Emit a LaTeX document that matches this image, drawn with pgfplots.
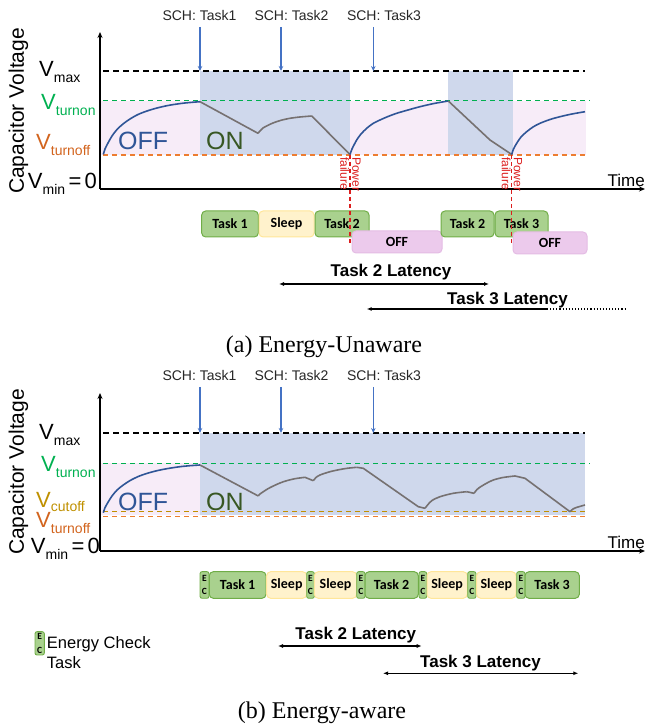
\documentclass[border=0pt]{standalone}
\usepackage{pgfplots}
\pgfplotsset{compat=1.18}
\usepackage{fontspec}
\setmainfont{Liberation Serif}
\newfontfamily\arial{Liberation Sans}
\newfontfamily\calibri{Carlito}
\usetikzlibrary{arrows.meta}
\definecolor{regblue}{RGB}{207,216,236}
\definecolor{regpink}{RGB}{247,236,248}
\definecolor{vgreen}{RGB}{0,176,80}
\definecolor{vorange}{RGB}{237,125,49}
\definecolor{vorangetxt}{RGB}{210,100,30}
\definecolor{vgold}{RGB}{191,144,0}
\definecolor{cblue}{RGB}{47,85,151}
\definecolor{cgray}{RGB}{118,113,113}
\definecolor{ongreen}{RGB}{56,87,35}
\definecolor{taskfill}{RGB}{169,209,142}
\definecolor{taskdraw}{RGB}{112,173,71}
\definecolor{sleepfill}{RGB}{255,242,204}
\definecolor{sleepdraw}{RGB}{255,230,153}
\definecolor{offfill}{RGB}{236,202,236}
\definecolor{offdraw}{RGB}{228,188,228}
\definecolor{schblue}{RGB}{68,114,196}
\definecolor{pfred}{RGB}{220,30,30}
\newcommand{\fs}[1]{\fontsize{#1}{#1}\selectfont}
\newcommand{\Vlab}[1]{V\raisebox{-6pt}{\fs{14}#1}}
\tikzset{
  task/.style={draw=taskdraw, fill=taskfill, rounded corners=4pt, line width=1pt},
  sleep/.style={draw=sleepdraw, fill=sleepfill, rounded corners=4pt, line width=1pt},
  off/.style={draw=offdraw, fill=offfill, rounded corners=4pt, line width=1pt},
  ec/.style={draw=taskdraw, fill=taskfill, rounded corners=2pt, line width=0.9pt},
  lat/.style={line width=1.1pt, {Latex[length=5pt,width=4pt]}-{Latex[length=5pt,width=4pt]}},
  crv/.style={line width=1.6pt},
}
\newcommand{\tbox}[6]{\draw[#1] (#2,-#4) rectangle (#3,-#5);
  \node[font=\calibri\bfseries\fs{14}, inner sep=0] at ({(#2+#3)/2},{-(#4+#5)/2}) {#6};}
\newcommand{\ecbox}[4]{\draw[ec] (#1,-#3) rectangle (#2,-#4);
  \node[font=\calibri\bfseries\fontsize{9.5}{13.5}\selectfont, align=center, inner sep=0] at ({(#1+#2)/2},{-(#3+#4)/2}) {E\\C};}
\begin{document}
\begin{tikzpicture}
\begin{axis}[x=1pt, y=1pt, xmin=0, xmax=645, ymin=-726, ymax=0, hide axis, clip=false]
\coordinate (BL) at (0,-726);
\coordinate (TR) at (645,0);
% ================= PANEL (a) =================
\addplot[fill=regpink, draw=none] coordinates {(101,-100.7) (200,-100.7) (200,-155) (101,-155)} -- cycle;
\addplot[fill=regblue, draw=none] coordinates {(200,-71) (350,-71) (350,-155) (200,-155)} -- cycle;
\addplot[fill=regpink, draw=none] coordinates {(350,-100.7) (448,-100.7) (448,-155) (350,-155)} -- cycle;
\addplot[fill=regblue, draw=none] coordinates {(448,-71) (513,-71) (513,-155) (448,-155)} -- cycle;
\addplot[fill=regpink, draw=none] coordinates {(513,-100.7) (586,-100.7) (586,-155) (513,-155)} -- cycle;
\addplot[black, line width=1.6pt, dash pattern=on 6pt off 4pt] coordinates {(103,-71) (585,-71)};
\addplot[vgreen, line width=1.4pt, dash pattern=on 5pt off 4pt] coordinates {(103,-100.7) (590,-100.7)};
\addplot[vorange, line width=1.5pt, dash pattern=on 5pt off 4pt] coordinates {(103,-155) (588,-155)};
\addplot[cblue, crv, smooth] coordinates {(103.3,-154.5) (105,-149) (108,-143) (112,-136) (117,-129.5) (123,-124) (130,-119) (138,-114.5) (147,-111) (157,-108) (168,-105.5) (180,-103.6) (190,-102.5) (200,-101.7)};
\addplot[cgray, crv] coordinates {(200,-101.7) (258,-133.3)};
\addplot[cgray, crv, smooth] coordinates {(258,-133.3) (260,-131) (263,-128) (268,-125.3) (273,-123) (281,-120.3) (290,-118.3) (300,-117) (311.7,-116)};
\addplot[cgray, crv] coordinates {(311.7,-116) (350,-154.5)};
\addplot[cblue, crv, smooth] coordinates {(350,-154.5) (352,-149) (354.5,-144) (357,-139.5) (361,-134) (366.7,-128.3) (373,-123.5) (380,-120) (388,-116.5) (396.7,-113.3) (408,-110) (420,-106.7) (434,-103.5) (448.3,-101)};
\addplot[cgray, crv] coordinates {(448.3,-101) (490,-140) (511.7,-154.5)};
\addplot[cblue, crv, smooth] coordinates {(511.7,-154.5) (513.5,-149) (516.7,-143.3) (521,-137) (526.7,-131.7) (533,-127) (540,-123.3) (550,-119.5) (560,-116.7) (572,-114) (585,-111.7)};
\addplot[black, line width=1.5pt, -{Stealth[length=6pt,width=5pt]}] coordinates {(100,-189) (645,-189)};
\addplot[black, line width=1.5pt, -{Stealth[length=6pt,width=5pt]}] coordinates {(100,-189) (100,-32)};
\addplot[schblue, line width=1.3pt, -{Stealth[length=5pt,width=4.5pt]}] coordinates {(200,-27) (200,-71)};
\addplot[schblue, line width=1.3pt, -{Stealth[length=5pt,width=4.5pt]}] coordinates {(281,-27) (281,-71)};
\addplot[schblue, line width=1.3pt, -{Stealth[length=5pt,width=4.5pt]}] coordinates {(373.3,-27) (373.3,-71)};
\node[anchor=base, font=\arial\fs{14}, text=black!85, inner sep=0] at (199.5,-20.7) {SCH: Task1};
\node[anchor=base, font=\arial\fs{14}, text=black!85, inner sep=0] at (291.5,-20.7) {SCH: Task2};
\node[anchor=base, font=\arial\fs{14}, text=black!85, inner sep=0] at (384,-20.7) {SCH: Task3};
\node[rotate=90, anchor=base, font=\arial\fs{21}, inner sep=0] at (24,-111) {Capacitor Voltage};
\node[anchor=base west, font=\arial\fs{22}, inner sep=0] at (39,-77) {\Vlab{max}};
\node[anchor=base west, font=\arial\fs{22}, text=vgreen, inner sep=0] at (41,-110) {\Vlab{turnon}};
\node[anchor=base west, font=\arial\fs{22}, text=vorangetxt, inner sep=0] at (36,-149.3) {\Vlab{turnoff}};
\node[anchor=base east, font=\arial\fs{22}, inner sep=0] at (97,-189) {\Vlab{min}\hspace{3.5pt}=\hspace{3pt}0};
\node[anchor=base west, font=\arial\fs{25}, text=cblue, inner sep=0] at (118,-150) {OFF};
\node[anchor=base west, font=\arial\fs{25}, text=ongreen, inner sep=0] at (206,-150) {ON};
\node[anchor=base east, font=\arial\fs{17}, inner sep=0] at (645,-186.7) {Time};
\tbox{task}{201.7}{258.3}{211}{237}{Task 1}
\tbox{sleep}{259}{314}{211}{237}{Sleep}
\tbox{task}{315}{369}{211}{237}{Task 2}
\tbox{off}{352}{442}{231}{253}{OFF}
\tbox{task}{441}{494}{211}{237}{Task 2}
\tbox{task}{495}{548}{211}{237}{Task 3}
\tbox{off}{513}{587}{232}{254}{OFF}
\addplot[pfred, line width=1.1pt, dash pattern=on 4pt off 3pt] coordinates {(350,-155) (350,-243)};
\addplot[pfred, line width=1.1pt, dash pattern=on 4pt off 3pt] coordinates {(511.7,-155) (511.7,-245)};
\node[rotate=-90, anchor=west, align=left, font=\arial\fs{12}, text=pfred, inner sep=0] at (350.5,-157) {Power\\failure};
\node[rotate=-90, anchor=west, align=left, font=\arial\fs{12}, text=pfred, inner sep=0] at (512,-157) {Power\\failure};
\node[anchor=base, font=\arial\bfseries\fs{17}, inner sep=0] at (391,-277) {Task 2 Latency};
\addplot[black, lat] coordinates {(279,-284) (489,-284)};
\node[anchor=base, font=\arial\bfseries\fs{17}, inner sep=0] at (507.5,-305) {Task 3 Latency};
\addplot[black, line width=1.1pt, {Latex[length=5pt,width=4pt]}-] coordinates {(366.7,-309) (547,-309)};
\addplot[black, line width=1.1pt, dotted] coordinates {(547,-309) (625,-309)};
\node[anchor=base, font=\fs{24}, inner sep=0] at (324,-352.3) {(a)~Energy-Unaware};
% ================= PANEL (b) =================
\addplot[fill=regpink, draw=none] coordinates {(101,-463.3) (200,-463.3) (200,-515.5) (101,-515.5)} -- cycle;
\addplot[fill=regblue, draw=none] coordinates {(200,-433) (585,-433) (585,-515.5) (200,-515.5)} -- cycle;
\addplot[black, line width=1.6pt, dash pattern=on 6pt off 4pt] coordinates {(103,-433) (585,-433)};
\addplot[vgreen, line width=1.4pt, dash pattern=on 5pt off 4pt] coordinates {(103,-463.3) (590,-463.3)};
\addplot[vgold, line width=1.5pt, dash pattern=on 5pt off 4pt] coordinates {(103,-511.7) (588,-511.7)};
\addplot[vorange, line width=1.5pt, dash pattern=on 5pt off 4pt] coordinates {(103,-516.7) (588,-516.7)};
\addplot[cblue, crv, smooth] coordinates {(103.3,-512.7) (105,-507.7) (108,-502.3) (112,-496) (117,-490.1) (123,-485.2) (130,-480.6) (138,-476.6) (147,-473.4) (157,-470.7) (168,-468.5) (180,-466.7) (190,-465.7) (200,-465)};
\addplot[cgray, crv] coordinates {(200,-465) (258.3,-496)};
\addplot[cgray, crv, smooth] coordinates {(258.3,-496) (260,-494) (263.3,-491.7) (268,-488.7) (273.3,-486) (280,-483) (286.7,-480.7) (295,-478.7) (305,-477.3)};
\addplot[cgray, crv] coordinates {(305,-477.3) (313.3,-480.7)};
\addplot[cgray, crv, smooth] coordinates {(313.3,-480.7) (316,-477.5) (320,-475) (330,-471.7) (340,-469.5) (348,-468.2) (356.7,-467.3)};
\addplot[cgray, crv] coordinates {(356.7,-467.3) (363.3,-468.3) (418.3,-506.7) (425,-508.3)};
\addplot[cgray, crv, smooth] coordinates {(425,-508.3) (428,-504.5) (432,-500.5) (440,-496.7) (453.3,-493.3) (466.7,-491.7)};
\addplot[cgray, crv] coordinates {(466.7,-491.7) (474,-493.3)};
\addplot[cgray, crv, smooth] coordinates {(474,-493.3) (477,-489.5) (481,-486.5) (487,-483) (493.3,-480) (503,-477.5) (515,-476)};
\addplot[cgray, crv] coordinates {(515,-476) (525,-478.3) (570,-511.7)};
\addplot[cgray, crv, smooth] coordinates {(570,-511.7) (573,-509) (577,-507.3) (585,-505)};
\addplot[black, line width=1.5pt, -{Stealth[length=6pt,width=5pt]}] coordinates {(100,-551) (645,-551)};
\addplot[black, line width=1.5pt, -{Stealth[length=6pt,width=5pt]}] coordinates {(100,-551) (100,-393)};
\addplot[schblue, line width=1.3pt, -{Stealth[length=5pt,width=4.5pt]}] coordinates {(200,-387) (200,-433)};
\addplot[schblue, line width=1.3pt, -{Stealth[length=5pt,width=4.5pt]}] coordinates {(281,-387) (281,-433)};
\addplot[schblue, line width=1.3pt, -{Stealth[length=5pt,width=4.5pt]}] coordinates {(373.3,-387) (373.3,-433)};
\node[anchor=base, font=\arial\fs{14}, text=black!85, inner sep=0] at (199.5,-381) {SCH: Task1};
\node[anchor=base, font=\arial\fs{14}, text=black!85, inner sep=0] at (291.5,-381) {SCH: Task2};
\node[anchor=base, font=\arial\fs{14}, text=black!85, inner sep=0] at (384,-381) {SCH: Task3};
\node[rotate=90, anchor=base, font=\arial\fs{21}, inner sep=0] at (24,-472) {Capacitor Voltage};
\node[anchor=base west, font=\arial\fs{22}, inner sep=0] at (39,-440) {\Vlab{max}};
\node[anchor=base west, font=\arial\fs{22}, text=vgreen, inner sep=0] at (41,-471.7) {\Vlab{turnon}};
\node[anchor=base west, font=\arial\fs{22}, text=vgold, inner sep=0] at (36,-508) {V\raisebox{-4pt}{\fs{14}cutoff}};
\node[anchor=base west, font=\arial\fs{22}, text=vorangetxt, inner sep=0] at (36,-527.5) {\Vlab{turnoff}};
\node[anchor=base east, font=\arial\fs{22}, inner sep=0] at (100,-554) {\Vlab{min}\hspace{3.5pt}=\hspace{3pt}0};
\node[anchor=base west, font=\arial\fs{25}, text=cblue, inner sep=0] at (118,-510.7) {OFF};
\node[anchor=base west, font=\arial\fs{25}, text=ongreen, inner sep=0] at (206,-510.7) {ON};
\node[anchor=base east, font=\arial\fs{17}, inner sep=0] at (645,-549) {Time};
\ecbox{200}{209}{571.7}{598.3}
\tbox{task}{209.3}{266}{571.7}{598.3}{Task 1}
\tbox{sleep}{266.7}{306.7}{571.7}{598.3}{Sleep}
\ecbox{306.7}{314.3}{571.7}{598.3}
\tbox{sleep}{314.3}{356.7}{571.7}{598.3}{Sleep}
\ecbox{356.7}{365}{571.7}{598.3}
\tbox{task}{365}{418.3}{571.7}{598.3}{Task 2}
\ecbox{419}{426.7}{571.7}{598.3}
\tbox{sleep}{427}{467.3}{571.7}{598.3}{Sleep}
\ecbox{467.7}{476}{571.7}{598.3}
\tbox{sleep}{476.7}{516}{571.7}{598.3}{Sleep}
\ecbox{516.7}{525}{571.7}{598.3}
\tbox{task}{525}{579.3}{571.7}{598.3}{Task 3}
\ecbox{35}{44.3}{631.7}{655}
\node[anchor=base west, font=\arial\fs{16.5}, inner sep=0] at (46.7,-648.3) {Energy Check};
\node[anchor=base west, font=\arial\fs{16.5}, inner sep=0] at (46.7,-668.3) {Task};
\node[anchor=base, font=\arial\bfseries\fs{17}, inner sep=0] at (355.8,-639.3) {Task 2 Latency};
\addplot[black, lat] coordinates {(278,-646) (421.7,-646)};
\node[anchor=base, font=\arial\bfseries\fs{17}, inner sep=0] at (480.5,-667.3) {Task 3 Latency};
\addplot[black, lat] coordinates {(383,-673.3) (578.3,-673.3)};
\node[anchor=base, font=\fs{24}, inner sep=0] at (322,-719) {(b)~Energy-aware};
\end{axis}
\pgfresetboundingbox
\path (BL) rectangle (TR);
\end{tikzpicture}
\end{document}
